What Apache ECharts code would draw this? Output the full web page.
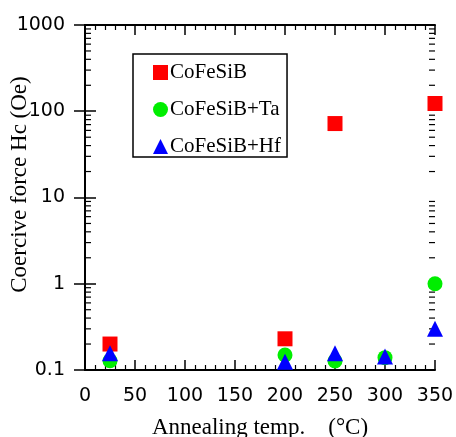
<!DOCTYPE html>
<html>
<head>
<meta charset="utf-8">
<script src="https://cdn.jsdelivr.net/npm/echarts@6/dist/echarts.min.js"></script>
<style>
  html, body { margin: 0; padding: 0; background: #fff; }
  #main { width: 456px; height: 437px; }
</style>
</head>
<body>
<div id="main"></div>
<script>
var myChart = echarts.init(document.getElementById("main"));

// annealing temperatures (°C) and coercive force Hc (Oe)
var tempsPlain = [25, 200, 250, 350];
var hcPlain = [0.2, 0.23, 72, 123];
var tempsTa = [25, 200, 250, 300, 350];
var hcTa = [0.128, 0.149, 0.127, 0.139, 1.0];
var tempsHf = [25, 200, 250, 300, 350];
var hcHf = [0.156, 0.125, 0.156, 0.143, 0.30];
var seriesNames = ['CoFeSiB', 'CoFeSiB+Ta', 'CoFeSiB+Hf'];

// log minor ticks: 2..9 in each decade
var minorLogTicks = [];
[0.1, 1, 10, 100].forEach(function (d) {
  for (var k = 2; k <= 9; k++) minorLogTicks.push([0, +(k * d).toPrecision(3)]);
});

function pairs(xs, ys) {
  return xs.map(function (x, i) { return [x, ys[i]]; });
}

var serif = 'Liberation Serif';
var sans = 'DejaVu Sans';

var option = {
  animation: false,
  backgroundColor: '#fff',
  grid: { left: 85, top: 25, width: 350, height: 345, outerBoundsMode: 'none', containLabel: false },
  legend: {
    left: 133,
    top: 54,
    orient: 'vertical',
    data: seriesNames,
    itemWidth: 15,
    itemHeight: 15,
    itemGap: 16,
    padding: [8, 6, 0, 20],
    borderColor: '#000',
    borderWidth: 1.5,
    textStyle: { fontFamily: serif, fontSize: 21, color: '#000', padding: [0, 0, 0, -3] }
  },
  xAxis: [{
    type: 'value',
    min: 0, max: 350, interval: 50,
    name: 'Annealing temp.\u3000(°C)',
    nameLocation: 'middle',
    nameGap: 46,
    nameMoveOverlap: false,
    nameTextStyle: { fontFamily: serif, fontSize: 23, color: '#000' },
    axisLine: { lineStyle: { color: '#000', width: 2 } },
    axisTick: { inside: true, length: 10, lineStyle: { color: '#000', width: 1.5 } },
    minorTick: { show: true, splitNumber: 5, length: 5, lineStyle: { color: '#000', width: 1.2 } },
    splitLine: { show: false },
    axisLabel: { fontFamily: sans, fontSize: 19, color: '#000', margin: 17 }
  }, {
    type: 'value',
    position: 'top',
    min: 0, max: 350, interval: 50,
    axisLine: { lineStyle: { color: '#000', width: 2 } },
    axisTick: { inside: true, length: 10, lineStyle: { color: '#000', width: 1.5 } },
    minorTick: { show: true, splitNumber: 5, length: 5, lineStyle: { color: '#000', width: 1.2 } },
    splitLine: { show: false },
    axisLabel: { show: false }
  }],
  yAxis: [{
    type: 'log',
    logBase: 10,
    min: 0.1, max: 1000,
    name: 'Coercive force Hc (Oe)',
    nameLocation: 'middle',
    nameGap: 54,
    nameMoveOverlap: false,
    nameTextStyle: { fontFamily: serif, fontSize: 23, color: '#000', padding: [0, 0, 0, 26] },
    axisLine: { lineStyle: { color: '#000', width: 2 } },
    axisTick: { inside: true, length: 11, lineStyle: { color: '#000', width: 1.5 } },
    splitLine: { show: false },
    axisLabel: {
      fontFamily: sans, fontSize: 19, color: '#000', margin: 20,
      formatter: function (v) { return String(+v.toPrecision(3)); }
    }
  }, {
    type: 'log',
    logBase: 10,
    position: 'right',
    min: 0.1, max: 1000,
    axisLine: { lineStyle: { color: '#000', width: 2 } },
    axisTick: { inside: true, length: 11, lineStyle: { color: '#000', width: 1.5 } },
    splitLine: { show: false },
    axisLabel: { show: false }
  }],
  series: [{
    type: 'custom',
    silent: true,
    clip: false,
    legendHoverLink: false,
    data: minorLogTicks,
    renderItem: function (params, api) {
      var p0 = api.coord([0, api.value(1)]);
      var p1 = api.coord([350, api.value(1)]);
      var st = { stroke: '#000', lineWidth: 1.2 };
      return {
        type: 'group',
        children: [
          { type: 'line', shape: { x1: p0[0], y1: p0[1], x2: p0[0] + 6, y2: p0[1] }, style: st },
          { type: 'line', shape: { x1: p1[0], y1: p1[1], x2: p1[0] - 6, y2: p1[1] }, style: st }
        ]
      };
    },
    z: 1
  }, {
    name: seriesNames[0],
    type: 'scatter',
    symbol: 'rect',
    symbolSize: 15,
    itemStyle: { color: '#ff0000', opacity: 1 },
    data: pairs(tempsPlain, hcPlain),
    z: 3
  }, {
    name: seriesNames[1],
    type: 'scatter',
    symbol: 'circle',
    symbolSize: 15,
    itemStyle: { color: '#00ee00', opacity: 1 },
    data: pairs(tempsTa, hcTa),
    z: 4
  }, {
    name: seriesNames[2],
    type: 'scatter',
    symbol: 'triangle',
    symbolSize: 16,
    itemStyle: { color: '#0000ff', opacity: 1 },
    data: pairs(tempsHf, hcHf),
    z: 5
  }]
};
myChart.setOption(option);
</script>
</body>
</html>
